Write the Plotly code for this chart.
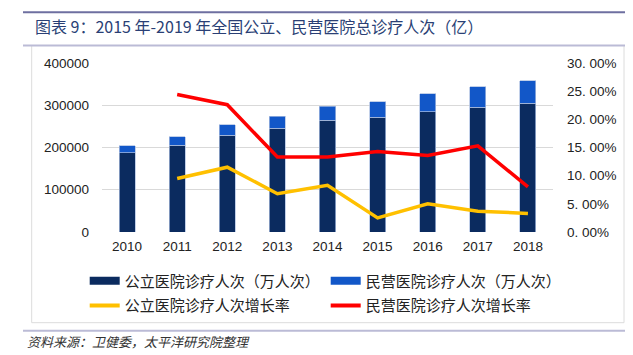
import plotly.graph_objects as go

years = ["2010", "2011", "2012", "2013", "2014", "2015", "2016", "2017", "2018"]
public_visits = [187381, 205254, 228866, 245510, 264742, 271244, 284772, 295202, 305123]
private_visits = [16931, 20580, 25330, 28669, 32474, 37121, 42184, 48677, 52565]
growth_years = ["2011", "2012", "2013", "2014", "2015", "2016", "2017", "2018"]
public_growth = [9.5, 11.5, 6.8, 8.3, 2.5, 5.0, 3.7, 3.3]
private_growth = [24.4, 22.6, 13.3, 13.3, 14.3, 13.6, 15.3, 8.0]
left_ticks = [0, 100000, 200000, 300000, 400000]
right_ticks = [0, 5, 10, 15, 20, 25, 30]
right_ticktext = ["0. 00%", "5. 00%", "10. 00%", "15. 00%", "20. 00%", "25. 00%", "30. 00%"]

names = ["公立医院诊疗人次（万人次）", "民营医院诊疗人次（万人次）", "公立医院诊疗人次增长率", "民营医院诊疗人次增长率"]
c_dark = "#0B2B5F"
c_blue = "#1257C8"
c_yellow = "#FFC000"
c_red = "#FF0000"

CJK = "Noto Sans CJK SC"
NUM = "Liberation Sans, Arial, sans-serif"

# page has an 8px body margin; figure is sized to fill the rest of the window
BODY = 8
W, H = 633 - BODY, 355 - BODY
ML, MT, PW, PH = 94, 55, 451, 169
MR = W - ML - PW
MB = H - MT - PH


def PX(page_x):
    return (page_x - BODY - ML) / PW


def PY(page_y):
    return (MT + PH - (page_y - BODY)) / PH


fig = go.Figure()
edge = dict(color="rgba(170,190,225,0.9)", width=0.8)
fig.add_trace(go.Bar(x=years, y=public_visits, marker=dict(color=c_dark, line=edge),
                     width=0.32, showlegend=False, name=names[0]))
fig.add_trace(go.Bar(x=years, y=private_visits, marker=dict(color=c_blue, line=edge),
                     width=0.32, showlegend=False, name=names[1]))
fig.add_trace(go.Scatter(x=growth_years, y=public_growth, yaxis="y2", mode="lines",
                         line=dict(color=c_yellow, width=3.5), showlegend=False, name=names[2]))
fig.add_trace(go.Scatter(x=growth_years, y=private_growth, yaxis="y2", mode="lines",
                         line=dict(color=c_red, width=3.5), showlegend=False, name=names[3]))

# legend entries (wide swatches like the reference); one legend per row
for nm, col, w, lg in [(names[0], c_dark, 8, "legend"), (names[1], c_blue, 8, "legend"),
                       (names[2], c_yellow, 4, "legend2"), (names[3], c_red, 4, "legend2")]:
    fig.add_trace(go.Scatter(x=[None], y=[None], mode="lines", name=nm, legend=lg,
                             line=dict(color=col, width=w), showlegend=True))

leg_common = dict(orientation="h", xanchor="left", yanchor="top", entrywidth=196,
                  font=dict(family=CJK, size=15, color="#222"), traceorder="normal",
                  tracegroupgap=0, itemwidth=30, bgcolor="rgba(0,0,0,0)")

fig.update_layout(
    width=W, height=H,
    margin=dict(l=ML, r=MR, t=MT, b=MB, autoexpand=False),
    paper_bgcolor="white", plot_bgcolor="white",
    barmode="stack",
    xaxis=dict(type="category", showgrid=False, showline=False, zeroline=False, ticks="",
               tickfont=dict(family=NUM, size=13.5, color="#222"), ticklabelstandoff=4),
    yaxis=dict(range=[0, 400000], tickvals=left_ticks, ticktext=[str(v) for v in left_ticks],
               showgrid=True, gridcolor="#D9D9D9", gridwidth=1, zeroline=False, showline=False,
               ticks="", tickfont=dict(family=NUM, size=13.5, color="#222"), ticklabelstandoff=12),
    yaxis2=dict(range=[0, 30], overlaying="y", side="right", tickvals=right_ticks,
                ticktext=right_ticktext, showgrid=False, zeroline=False, showline=False, ticks="",
                tickfont=dict(family=NUM, size=13.5, color="#222"), ticklabelstandoff=13),
    legend=dict(x=PX(84.7), y=PY(264.5), **leg_common),
    legend2=dict(x=PX(84.7), y=PY(289.2), **leg_common),
    shapes=[
        dict(type="line", xref="paper", yref="paper", x0=PX(23), x1=PX(626),
             y0=PY(12.3), y1=PY(12.3), line=dict(color="#6E6FA0", width=2)),
        dict(type="rect", xref="paper", yref="paper", x0=PX(31.7), x1=PX(624),
             y0=PY(322.7), y1=PY(45.5), line=dict(color="#DCDCDC", width=1), layer="below"),
        dict(type="line", xref="paper", yref="paper", x0=PX(23), x1=PX(626),
             y0=PY(45.5), y1=PY(45.5), line=dict(color="#BBBBD6", width=2)),
        dict(type="line", xref="paper", yref="paper", x0=PX(23), x1=PX(630),
             y0=PY(330.7), y1=PY(330.7), line=dict(color="#BBBBD6", width=2)),
    ],
    annotations=[
        dict(text="图表 9：2015 年-2019 年全国公立、民营医院总诊疗人次（亿）", xref="paper", yref="paper",
             x=PX(33), y=PY(25.5), xanchor="left", yanchor="middle",
             showarrow=False, font=dict(family=CJK, size=16, color="#2A3F75")),
        dict(text="资料来源：卫健委，太平洋研究院整理", xref="paper", yref="paper",
             x=PX(25), y=PY(341.7), xanchor="left", yanchor="middle",
             showarrow=False, font=dict(family=CJK, size=13, color="#333", style="italic")),
    ],
)

fig.write_html("out.html")
